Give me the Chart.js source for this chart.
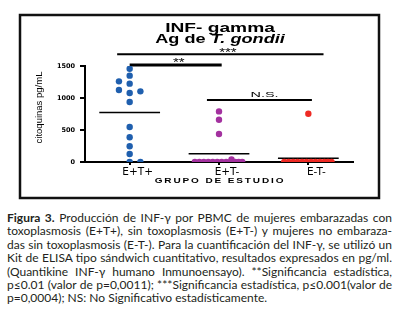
<!DOCTYPE html>
<html><head><meta charset="utf-8">
<script src="https://cdn.jsdelivr.net/npm/chart.js@4.4.1/dist/chart.umd.min.js"></script>
<style>
html,body{margin:0;padding:0;background:#fff;width:398px;height:315px;overflow:hidden;}
#c{position:absolute;left:0;top:0;}
#cap{position:absolute;left:7px;top:211px;width:385px;font-family:Lato,"Open Sans",sans-serif;font-size:12px;line-height:13.4px;color:#231f20;}
#cap .l{white-space:nowrap;}
</style></head><body>
<canvas id="c" width="398" height="200"></canvas>
<div id="cap"></div>
<script>
// ---- data ----
const categories = ['E+T+', 'E+T-', 'E-T-'];
const yTickStep = 500;
const yMax = 1500;

// E+T+ (blue)
const valuesEposTpos = [1458, 1349, 1260, 1224, 1125, 1104, 1078, 937, 547, 386, 245, 125, 0, 0];
const jitterEposTpos = [0, 0, -0.12, 0, -0.12, 0.12, 0, 0, 0, 0, 0, 0, 0, 0.12];
// E+T- (purple)
const valuesEposTneg = [791, 661, 437, 40, 0, 0, 0, 0, 0, 0, 0, 0, 0, 0, 0, 0];
const jitterEposTneg = [0, 0, 0, 0.14, -0.27, -0.22, -0.17, -0.12, -0.07, -0.02, 0.03, 0.08, 0.13, 0.18, 0.22, 0.26];
// E-T- (red)
const valuesEnegTneg = [755, 0, 0, 0, 0, 0, 0, 0, 0, 0, 0, 0, 0];
const jitterEnegTneg = [0, -0.27, -0.22, -0.17, -0.12, -0.07, -0.02, 0.03, 0.08, 0.13, 0.18, 0.22, 0.26];

// group means (horizontal bars)
const groupMeans = [775, 130, 58];

// significance brackets
const bracketLabels = ['**', '***', 'N.S.'];
const bracketStart = [0.0, -0.14, 0.865];
const bracketEnd = [1.03, 2.17, 2.04];
const bracketLevel = [1516, 1683, 969];
const bracketLabelAt = [0.55, 1.10, 1.51];

const titleLine1 = 'INF- gamma';
const titleLine2a = 'Ag de ';
const titleLine2b = 'T. gondii';
const yTitle = 'citoquinas pg/mL';
const xTitle = 'GRUPO DE ESTUDIO';

const captionLines = [
  '<b>Figura 3.</b> Producción de INF-γ por PBMC de mujeres embarazadas con',
  'toxoplasmosis (E+T+), sin toxoplasmosis (E+T-) y mujeres no embaraza-',
  'das sin toxoplasmosis (E-T-). Para la cuantificación del INF-γ, se utilizó un',
  'Kit de ELISA tipo sándwich cuantitativo, resultados expresados en pg/ml.',
  '(Quantikine INF-γ humano Inmunoensayo). **Significancia estadística,',
  'p≤0.01 (valor de p=0,0011); ***Significancia estadística, p≤0.001(valor de',
  'p=0,0004); NS: No Significativo estadísticamente.'
];

const colors = ['#1f5fae', '#a3319f', '#ee2a24'];

// ---- build datasets ----
function pts(vals, jit, idx) { return vals.map((v, i) => ({ x: idx + jit[i], y: v })); }
const groups = [[valuesEposTpos, jitterEposTpos], [valuesEposTneg, jitterEposTneg], [valuesEnegTneg, jitterEnegTneg]];
const datasets = [];
groups.forEach((g, i) => {
  datasets.push({ data: pts(g[0], g[1], i), backgroundColor: colors[i], borderWidth: 0, pointRadius: 3.2, pointHoverRadius: 3.2 });
});
groupMeans.forEach((m, i) => {
  datasets.push({ data: [{ x: i - 0.34, y: m }, { x: i + 0.34, y: m }], showLine: true, borderColor: '#000', borderWidth: 1.5, pointRadius: 0 });
});
bracketLabels.forEach((l, i) => {
  datasets.push({ data: [{ x: bracketStart[i], y: bracketLevel[i] }, { x: bracketEnd[i], y: bracketLevel[i] }], showLine: true, borderColor: '#000', borderWidth: i === 0 ? 3 : 2, pointRadius: 0, clip: false });
});

function stretchedText(ctx, parts, cx, cy, sx, baseline) {
  ctx.save();
  let total = 0;
  parts.forEach(p => { ctx.font = p.f; p.w = ctx.measureText(p.t).width; total += p.w; });
  ctx.translate(cx, cy);
  ctx.scale(sx, 1);
  ctx.textAlign = 'left';
  ctx.textBaseline = baseline || 'middle';
  let x = -total / 2;
  parts.forEach(p => { ctx.font = p.f; ctx.fillText(p.t, x, 0); x += p.w; });
  ctx.restore();
}

const decor = {
  id: 'decor',
  beforeDraw(chart) {
    const ctx = chart.ctx; ctx.save(); ctx.fillStyle = '#fff'; ctx.fillRect(0, 0, chart.width, chart.height); ctx.restore();
  },
  afterDraw(chart) {
    const ctx = chart.ctx, xs = chart.scales.x, ys = chart.scales.y, ca = chart.chartArea;
    ctx.save();
    ctx.fillStyle = '#000';
    ctx.strokeStyle = '#111'; ctx.lineWidth = 2.5;
    ctx.strokeRect(20, 15, 359, 183);
    const cx = (ca.left + ca.right) / 2 + 1;
    stretchedText(ctx, [{ t: titleLine1, f: 'bold 13.5px "Liberation Sans"' }], cx, 28, 1.42);
    stretchedText(ctx, [{ t: titleLine2a, f: 'bold 12.5px "Liberation Sans"' }, { t: titleLine2b, f: 'italic bold 12.5px "Liberation Sans"' }], cx, 40, 1.45);
    // bracket labels
    bracketLabels.forEach((l, i) => {
      const px = xs.getPixelForValue(bracketLabelAt[i]);
      const py = ys.getPixelForValue(bracketLevel[i]);
      if (l.startsWith('*')) {
        stretchedText(ctx, [{ t: l, f: '10px "Liberation Sans"' }], px, py - 5 + 6.3, 1.5, 'alphabetic');
      } else {
        stretchedText(ctx, [{ t: l, f: '8px "Liberation Sans"' }], px, py - 2.5, 1.8, 'alphabetic');
      }
    });
    // x title
    ctx.save();
    ctx.letterSpacing = '1.5px';
    stretchedText(ctx, [{ t: xTitle, f: 'bold 8px "Liberation Sans"' }], cx, 181, 1.25);
    ctx.restore();
    // y title
    ctx.save();
    ctx.translate(39, 107.5);
    ctx.rotate(-Math.PI / 2);
    ctx.font = '9.5px "Liberation Sans"';
    ctx.textAlign = 'center'; ctx.textBaseline = 'middle';
    ctx.fillText(yTitle, 0, 0);
    ctx.restore();
    ctx.restore();
  }
};

new Chart(document.getElementById('c'), {
  type: 'scatter',
  data: { datasets },
  plugins: [decor],
  options: {
    responsive: false, animation: false, devicePixelRatio: 1,
    layout: { padding: { left: 0, top: 66, right: 45, bottom: 0 } },
    plugins: { legend: { display: false }, tooltip: { enabled: false }, title: { display: false } },
    scales: {
      x: {
        type: 'linear', min: -0.5, max: 2.5,
        afterBuildTicks: (ax) => { ax.ticks = categories.map((c, i) => ({ value: i })); },
        afterFit: (s) => { s.height = 38; },
        ticks: { callback: (v) => categories[v], color: '#000', font: { family: 'DejaVu Sans', size: 10.5 }, padding: 1, labelOffset: 8, maxRotation: 0, autoSkip: false },
        grid: { display: true, drawOnChartArea: false, drawTicks: true, tickLength: 3, color: '#000', lineWidth: 2 },
        border: { display: true, color: '#000', width: 2 }
      },
      y: {
        min: 0, max: yMax,
        afterFit: (s) => { s.width = 85; },
        ticks: { stepSize: yTickStep, callback: (v) => String(v), color: '#000', font: { family: 'DejaVu Sans', size: 6.5, weight: 'bold' }, padding: 5 },
        grid: { display: true, drawOnChartArea: false, drawTicks: true, tickLength: 5, color: '#000', lineWidth: 2 },
        border: { display: true, color: '#000', width: 2 }
      }
    }
  }
});

// caption: each line justified to the column width
const cap = document.getElementById('cap');
captionLines.forEach((t, i) => {
  const d = document.createElement('div'); d.className = 'l';
  const s = document.createElement('span'); s.innerHTML = t; d.appendChild(s); cap.appendChild(d);
  if (i < captionLines.length - 1) {
    const w = s.getBoundingClientRect().width;
    const txt = s.textContent;
    const n = (txt.match(/ /g) || []).length;
    if (w > 385) {
      s.style.letterSpacing = ((385 - w) / txt.length) + 'px';
      const w2 = s.getBoundingClientRect().width;
      s.style.wordSpacing = ((385 - w2) / n) + 'px';
    } else {
      s.style.wordSpacing = ((385 - w) / n) + 'px';
    }
  }
});
</script>
</body></html>
